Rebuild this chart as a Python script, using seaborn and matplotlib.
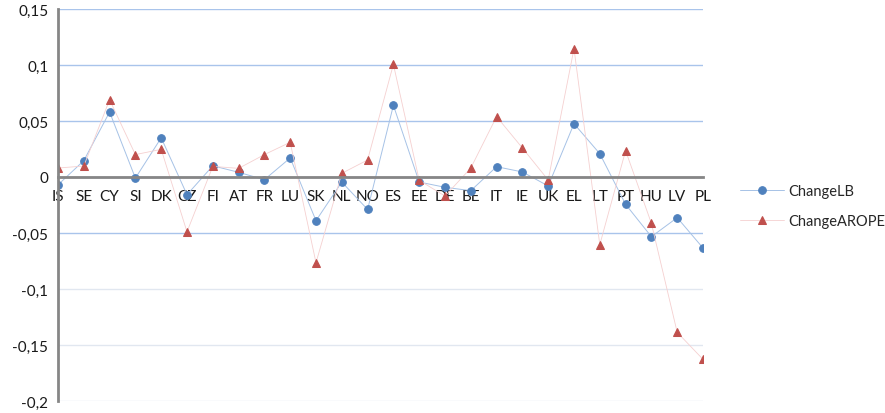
import numpy as np
import matplotlib
matplotlib.use('Agg')
import matplotlib.pyplot as plt
import pandas as pd
import seaborn as sns
from matplotlib.ticker import FuncFormatter, MultipleLocator

# datos
countries = ['IS', 'SE', 'CY', 'SI', 'DK', 'CZ', 'FI', 'AT', 'FR', 'LU', 'SK', 'NL', 'NO',
             'ES', 'EE', 'DE', 'BE', 'IT', 'IE', 'UK', 'EL', 'LT', 'PT', 'HU', 'LV', 'PL']
change_lb = [-0.007, 0.0146, 0.058, -0.001, 0.035, -0.0158, 0.010, 0.0042, -0.0024, 0.017,
             -0.039, -0.0045, -0.029, 0.064, -0.0045, -0.0092, -0.0122, 0.0092, 0.0045,
             -0.008, 0.0476, 0.0208, -0.0244, -0.0533, -0.0363, -0.0634]
change_arope = [0.008, 0.0098, 0.069, 0.020, 0.0247, -0.049, 0.0095, 0.0077, 0.020, 0.031,
                -0.0765, 0.0033, 0.0152, 0.1006, -0.003, -0.017, 0.008, 0.0539, 0.0259,
                -0.0027, 0.1146, -0.0604, 0.0235, -0.0414, -0.1387, -0.1628]

df = pd.DataFrame({'pos': np.arange(len(countries)), 'LB': change_lb, 'AROPE': change_arope})

sns.set_style('white')
plt.rcParams['font.family'] = ['Lato', 'DejaVu Sans']

fig = plt.figure(figsize=(8.85, 4.14), dpi=100)
ax = fig.add_axes([58 / 885, 12 / 414, (703 - 58) / 885, (402 - 10) / 414])

sns.lineplot(data=df, x='pos', y='LB', ax=ax, color='#a6c2e6', lw=0.7,
             marker='o', markersize=5.5, markerfacecolor='#4f81bd', markeredgecolor='#4f81bd',
             label='ChangeLB')
sns.lineplot(data=df, x='pos', y='AROPE', ax=ax, color='#f5d0d0', lw=0.6,
             marker='^', markersize=6, markerfacecolor='#c0504d', markeredgecolor='#c0504d',
             label='ChangeAROPE')

ax.set_xlim(0, len(countries) - 1)
ax.set_ylim(-0.2, 0.15)
ax.yaxis.set_major_locator(MultipleLocator(0.05))
ax.yaxis.set_major_formatter(FuncFormatter(lambda v, p: ('%g' % round(v, 3)).replace('.', ',')))
ax.set_xticks(df['pos'])
ax.set_xticklabels(countries)
ax.set_xlabel('')
ax.set_ylabel('')

ax.grid(axis='y')
for gl, v in zip(ax.get_ygridlines(), ax.get_yticks()):
    gl.set_color('#a9c4eb' if v > -0.075 else '#e1e7f0')
    gl.set_linewidth(1)
ax.set_axisbelow(True)

for s in ['top', 'right']:
    ax.spines[s].set_visible(False)
ax.spines['bottom'].set_position(('data', 0))
ax.spines['bottom'].set_color('#868686')
ax.spines['bottom'].set_linewidth(2)
ax.spines['left'].set_color('#868686')
ax.spines['left'].set_linewidth(2)

ax.tick_params(axis='x', direction='out', length=5, width=1, color='#868686',
               labelsize=11, pad=4, labelcolor='#1a1a1a')
ax.tick_params(axis='y', direction='out', length=4, width=1, color='#868686',
               labelsize=11, pad=3, labelcolor='#1a1a1a')

ax.get_legend().remove()
h, l = ax.get_legend_handles_labels()
fig.legend(h, l, loc='center left', bbox_to_anchor=(727 / 885, 207 / 414), frameon=False,
           fontsize=10.5, handlelength=3.0, handletextpad=0.3, labelspacing=1.1,
           borderpad=0.4)

plt.savefig('out.png', dpi=100)
